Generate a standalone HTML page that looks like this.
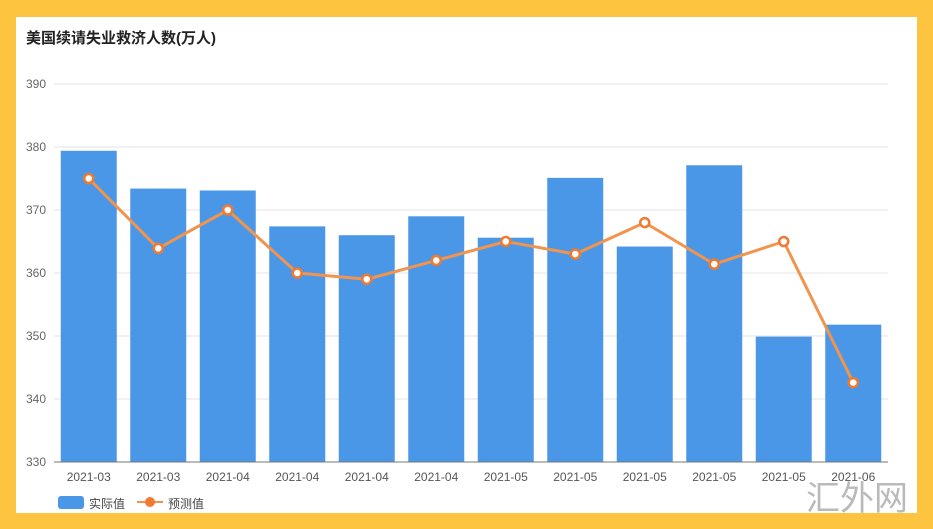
<!DOCTYPE html><html><head><meta charset="utf-8"><style>body{margin:0;width:933px;height:529px;background:#FDC440;overflow:hidden}svg{display:block}text{font-family:"Liberation Sans","Noto Sans CJK SC",sans-serif}</style></head><body>
<svg width="933" height="529" xmlns="http://www.w3.org/2000/svg">
<rect x="0" y="0" width="933" height="529" fill="#FDC440"/>
<rect x="16" y="17" width="901" height="496" fill="#fff"/>
<text x="26" y="43" font-size="15" font-weight="bold" fill="#222">美国续请失业救济人数(万人)</text>
<g stroke="#e3e3e3" stroke-width="1">
<line x1="54" y1="84" x2="888" y2="84"/><line x1="54" y1="147" x2="888" y2="147"/><line x1="54" y1="210" x2="888" y2="210"/><line x1="54" y1="273" x2="888" y2="273"/><line x1="54" y1="336" x2="888" y2="336"/><line x1="54" y1="399" x2="888" y2="399"/></g>
<g font-size="12" fill="#666" text-anchor="end">
<text x="46" y="88">390</text><text x="46" y="151">380</text><text x="46" y="214">370</text><text x="46" y="277">360</text><text x="46" y="340">350</text><text x="46" y="403">340</text><text x="46" y="466">330</text></g>
<g fill="#4A97E8" id="bars"></g>
<line x1="54" y1="462" x2="888" y2="462" stroke="#777"/>
<g id="xl" font-size="12" fill="#555" text-anchor="middle"></g>
<polyline id="ln" fill="none" stroke="#F0944E" stroke-width="3" stroke-linejoin="round"/>
<g id="mk"></g>
<rect x="58" y="496" width="26" height="13" rx="3" fill="#4A97E8"/>
<text x="89" y="508" font-size="12" fill="#444">实际值</text>
<line x1="137" y1="502" x2="163" y2="502" stroke="#F0944E" stroke-width="2"/>
<circle cx="150" cy="502" r="5" fill="#F07A30"/>
<text x="168" y="508" font-size="12" fill="#444">预测值</text>
<text x="806" y="510" font-size="34" fill="#aaa" font-family="'Noto Serif CJK SC',serif" opacity="0.8">汇外网</text>
</svg>
<script>
var a=[379.4,373.4,373.1,367.4,366.0,369.0,365.6,375.1,364.2,377.1,349.9,351.8];
var f=[375,363.9,370,360,359,362,365,363,368,361.4,365,342.6];
var lab=["2021-03","2021-03","2021-04","2021-04","2021-04","2021-04","2021-05","2021-05","2021-05","2021-05","2021-05","2021-06"];
function y(v){return 462-(v-330)*6.3}
var ns="http://www.w3.org/2000/svg",b=document.getElementById("bars"),xl=document.getElementById("xl"),mk=document.getElementById("mk"),pts=[];
for(var i=0;i<12;i++){var cx=54+69.5*(i+0.5);
var r=document.createElementNS(ns,"rect");r.setAttribute("x",cx-28);r.setAttribute("width",56);r.setAttribute("y",y(a[i]));r.setAttribute("height",462-y(a[i]));b.appendChild(r);
var t=document.createElementNS(ns,"text");t.setAttribute("x",cx);t.setAttribute("y",481);t.textContent=lab[i];xl.appendChild(t);
pts.push(cx+","+y(f[i]));
var c=document.createElementNS(ns,"circle");c.setAttribute("cx",cx);c.setAttribute("cy",y(f[i]));c.setAttribute("r",4.5);c.setAttribute("fill","#fff");c.setAttribute("stroke","#F07A30");c.setAttribute("stroke-width","2.5");mk.appendChild(c);}
document.getElementById("ln").setAttribute("points",pts.join(" "));
</script>
</body></html>
